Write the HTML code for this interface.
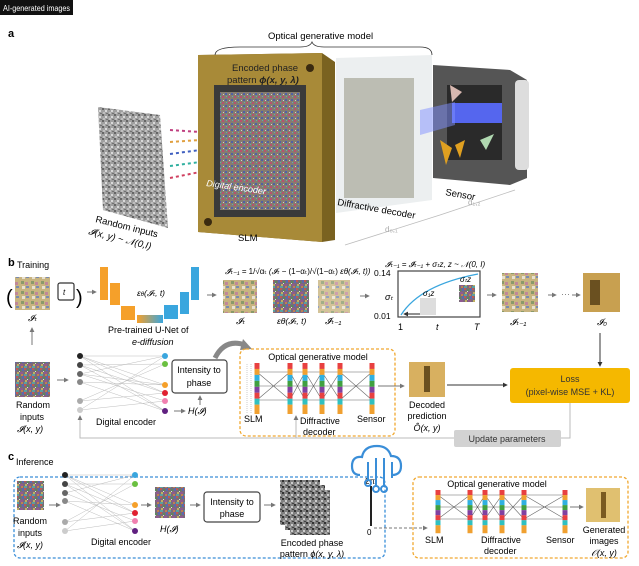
<!DOCTYPE html>
<html><head><meta charset="utf-8"><style>
html,body{margin:0;padding:0;background:#fff;}
svg{display:block;font-family:"Liberation Sans",sans-serif;}
</style></head><body>
<svg width="639" height="566" viewBox="0 0 639 566" xmlns="http://www.w3.org/2000/svg">
<defs>
<pattern id="cn" width="8" height="8" patternUnits="userSpaceOnUse">
<rect width="8" height="8" fill="#7a6a7a"/>
<rect x="0" y="0" width="2" height="2" fill="#c05a50"/><rect x="3" y="1" width="2" height="2" fill="#5a8a5a"/>
<rect x="6" y="0" width="2" height="3" fill="#5a6ab0"/><rect x="1" y="4" width="2" height="2" fill="#c0b060"/>
<rect x="4" y="4" width="3" height="2" fill="#905a90"/><rect x="0" y="6" width="3" height="2" fill="#5aa0a0"/>
<rect x="5" y="6" width="2" height="2" fill="#c08050"/><rect x="3" y="3" width="1" height="1" fill="#ddd"/>
</pattern>
<pattern id="bf" width="10" height="10" patternUnits="userSpaceOnUse">
<rect width="10" height="10" fill="#c8b480"/><rect x="1" y="1" width="3" height="3" fill="#8a9a6a"/>
<rect x="5" y="2" width="3" height="3" fill="#c08898"/><rect x="2" y="6" width="3" height="3" fill="#e8e0d0"/>
<rect x="6" y="6" width="3" height="2" fill="#7a8ab0"/>
</pattern>
<pattern id="gn" width="6" height="6" patternUnits="userSpaceOnUse">
<rect width="6" height="6" fill="#808080"/><rect x="0" y="0" width="2" height="2" fill="#333"/>
<rect x="3" y="2" width="2" height="2" fill="#ccc"/><rect x="1" y="4" width="2" height="2" fill="#aaa"/><rect x="4" y="5" width="2" height="1" fill="#444"/>
</pattern>
<pattern id="sn" width="6" height="6" patternUnits="userSpaceOnUse">
<rect width="6" height="6" fill="#857c70"/><rect x="0" y="0" width="2" height="2" fill="#b85070"/>
<rect x="3" y="3" width="2" height="2" fill="#5060a8"/><rect x="4" y="0" width="1" height="1" fill="#60b0b0"/><rect x="1" y="4" width="1" height="1" fill="#ccc"/>
</pattern>
<linearGradient id="ug" x1="0" x2="1"><stop offset="0" stop-color="#f5a02a"/><stop offset="1" stop-color="#3aa6de"/></linearGradient>
<marker id="ar" viewBox="0 0 6 6" refX="5" refY="3" markerWidth="5" markerHeight="5" orient="auto"><path d="M0,0L6,3L0,6z" fill="#777"/></marker>
<marker id="ak" viewBox="0 0 6 6" refX="5" refY="3" markerWidth="5" markerHeight="5" orient="auto"><path d="M0,0L6,3L0,6z" fill="#333"/></marker>
<g id="col"><rect x="-2.5" y="0" width="5" height="60" fill="#e0e0e0"/>
<rect x="-2.5" y="0" width="5" height="7" fill="#e84040"/><rect x="-2.5" y="7" width="5" height="7" fill="#f0a030"/><rect x="-2.5" y="14" width="5" height="7" fill="#30b0e0"/><rect x="-2.5" y="21" width="5" height="7" fill="#40a040"/><rect x="-2.5" y="28" width="5" height="7" fill="#8040a0"/><rect x="-2.5" y="35" width="5" height="7" fill="#e84040"/><rect x="-2.5" y="42" width="5" height="7" fill="#30c0c0"/><rect x="-2.5" y="49" width="5" height="11" fill="#f0a030"/></g>
</defs>

<rect x="0" y="0" width="73" height="15" fill="#111"/>
<text x="3" y="11" font-size="8.6" fill="#fff" textLength="67" lengthAdjust="spacingAndGlyphs">AI-generated images</text>
<text x="8" y="37" font-size="11" font-weight="bold">a</text>

<polygon points="98,107 160,115 168,228 103,210" fill="url(#gn)" opacity="0.75"/>
<g stroke-width="2">
<line x1="170" y1="130" x2="200" y2="132" stroke="#c04080" stroke-dasharray="3 3"/>
<line x1="170" y1="142" x2="200" y2="140" stroke="#e0a040" stroke-dasharray="3 3"/>
<line x1="170" y1="154" x2="200" y2="150" stroke="#4060c0" stroke-dasharray="3 3"/>
<line x1="170" y1="166" x2="200" y2="162" stroke="#30b0a0" stroke-dasharray="3 3"/>
<line x1="170" y1="178" x2="200" y2="172" stroke="#d04060" stroke-dasharray="3 3"/>
</g>
<text x="95" y="222" font-size="9.5" transform="rotate(14 95 222)">Random inputs</text>
<text x="88" y="234" font-size="9.5" font-style="italic" transform="rotate(14 88 234)">𝓘(x, y) ~ 𝒩(0,I)</text>
<polygon points="198,55 322,53 335,62 335,240 322,242 198,232" fill="#7a6220"/>
<polygon points="198,55 322,53 322,242 198,232" fill="#a88a38"/>
<rect x="214" y="85" width="92" height="132" fill="#3a3a3a"/>
<rect x="220" y="92" width="80" height="118" fill="url(#sn)"/>
<circle cx="310" cy="68" r="4" fill="#3a2a10"/><circle cx="208" cy="222" r="4" fill="#3a2a10"/>
<text x="232" y="71" font-size="9.5" fill="#222">Encoded phase</text>
<text x="227" y="83" font-size="9.5" fill="#222">pattern <tspan font-style="italic" font-weight="bold">ϕ(x, y, λ)</tspan></text>
<text x="206" y="186" font-size="9" font-style="italic" fill="#fff" transform="rotate(8 206 186)">Digital encoder</text>
<text x="238" y="241" font-size="9.5">SLM</text>
<polygon points="336,58 432,55 432,200 336,213" fill="#eceff0"/>
<rect x="344" y="78" width="70" height="120" fill="#b0b0a4" opacity="0.8"/>
<text x="337" y="205" font-size="9.5" transform="rotate(10 337 205)">Diffractive decoder</text>
<polygon points="433,65 510,70 527,80 527,178 510,185 433,178" fill="#555"/>
<rect x="447" y="85" width="55" height="75" fill="#2a2a2a"/>
<rect x="452" y="103" width="50" height="20" fill="#5566ee"/>
<path d="M420,110 L455,102 L455,125 L420,135z" fill="#8090ff" opacity="0.5"/>
<rect x="515" y="80" width="14" height="90" rx="4" fill="#ddd"/>
<polygon points="440,140 452,148 446,165" fill="#e0a020"/><polygon points="455,145 465,140 460,158" fill="#e0a020"/>
<polygon points="450,85 462,92 452,102" fill="#d8b8b0"/><polygon points="480,140 494,134 486,150" fill="#b0d8b0"/>
<text x="445" y="195" font-size="9.5" transform="rotate(10 445 195)">Sensor</text>
<text x="268" y="39" font-size="9.5">Optical generative model</text>
<path d="M215,55 Q215,47 240,47 L300,47 Q310,47 312,42 Q314,47 324,47 L420,47 Q432,47 432,55" fill="none" stroke="#333" stroke-width="0.8"/>
<g stroke="#bbb" stroke-width="0.8"><line x1="345" y1="245" x2="440" y2="215"/><line x1="440" y1="215" x2="515" y2="190"/></g>
<text x="385" y="232" font-size="8" fill="#aaa">d₀,₁</text><text x="468" y="205" font-size="8" fill="#aaa">d₁,₂</text>

<text x="8" y="266" font-size="11" font-weight="bold">b</text>
<text x="17" y="268" font-size="9">Training</text>
<text x="6" y="304" font-size="20">(</text>
<rect x="15" y="277" width="35" height="33" fill="url(#bf)"/>
<rect x="58" y="283" width="16" height="17" rx="2" fill="#fff" stroke="#333" stroke-width="1.2"/>
<text x="63" y="295" font-size="8" font-style="italic">t</text>
<text x="76" y="304" font-size="20">)</text>
<line x1="87" y1="292" x2="96" y2="292" stroke="#777" marker-end="url(#ar)"/>
<text x="28" y="321" font-size="9" font-style="italic">𝓘ₜ</text>
<line x1="32" y1="345" x2="32" y2="328" stroke="#777" marker-end="url(#ar)"/>
<rect x="100" y="267" width="8" height="33" fill="#f5a02a"/>
<rect x="110" y="283" width="10" height="22" fill="#f5a02a"/>
<rect x="121" y="306" width="14" height="14" fill="#f5a02a"/>
<rect x="137" y="315" width="26" height="8" fill="url(#ug)"/>
<rect x="164" y="305" width="14" height="14" fill="#3aa6de"/>
<rect x="180" y="292" width="9" height="22" fill="#3aa6de"/>
<rect x="191" y="267" width="8" height="33" fill="#3aa6de"/>
<text x="137" y="296" font-size="8.5" font-style="italic">ε<tspan font-size="6">θ</tspan>(𝓘ₜ, t)</text>
<text x="108" y="333" font-size="9">Pre-trained U-Net of</text>
<text x="132" y="345" font-size="9" font-style="italic">e-diffusion</text>
<line x1="207" y1="295" x2="216" y2="295" stroke="#777" marker-end="url(#ar)"/>
<text x="225" y="274" font-size="8" font-style="italic">𝓘̂ₜ₋₁ = <tspan font-style="normal">1/√αₜ</tspan> (𝓘ₜ − <tspan font-style="normal">(1−αₜ)/√(1−αₜ)</tspan> εθ(𝓘ₜ, t))</text>
<rect x="223" y="280" width="34" height="33" fill="url(#bf)"/>
<rect x="273" y="280" width="36" height="33" fill="url(#cn)"/>
<rect x="318" y="280" width="32" height="33" fill="url(#bf)" opacity="0.8"/>
<text x="236" y="324" font-size="9" font-style="italic">𝓘ₜ</text>
<text x="277" y="324" font-size="8.5" font-style="italic">εθ(𝓘ₜ, t)</text>
<text x="325" y="324" font-size="9" font-style="italic">𝓘̂ₜ₋₁</text>
<line x1="360" y1="296" x2="369" y2="296" stroke="#777" marker-end="url(#ar)"/>
<text x="385" y="300" font-size="9" font-style="italic">σₜ</text>
<text x="385" y="267" font-size="8" font-style="italic">𝓘ₜ₋₁ = 𝓘̂ₜ₋₁ + σₜz, z ~ 𝒩(0, I)</text>
<rect x="398" y="271" width="82" height="46" fill="#fff" stroke="#444" stroke-width="1.2"/>
<text x="374" y="276" font-size="8.5">0.14</text><text x="374" y="319" font-size="8.5">0.01</text>
<path d="M401,315 Q420,285 478,274" fill="none" stroke="#3aa6de" stroke-width="1.3"/>
<rect x="420" y="298" width="16" height="17" fill="#ddd"/>
<rect x="459" y="285" width="16" height="17" fill="url(#cn)"/>
<line x1="420" y1="314" x2="404" y2="314" stroke="#222" marker-end="url(#ak)"/>
<text x="423" y="296" font-size="8" font-style="italic">σ₁z</text><text x="460" y="282" font-size="8" font-style="italic">σₜz</text>
<text x="398" y="330" font-size="9">1</text><text x="436" y="330" font-size="9" font-style="italic">t</text><text x="474" y="330" font-size="9" font-style="italic">T</text>
<line x1="487" y1="295" x2="496" y2="295" stroke="#777" marker-end="url(#ar)"/>
<rect x="502" y="273" width="36" height="39" fill="url(#bf)"/>
<text x="510" y="325" font-size="9" font-style="italic">𝓘ₜ₋₁</text>
<line x1="548" y1="295" x2="556" y2="295" stroke="#777" marker-end="url(#ar)"/>
<text x="561" y="297" font-size="9" fill="#777">···</text>
<line x1="572" y1="295" x2="580" y2="295" stroke="#777" marker-end="url(#ar)"/>
<rect x="583" y="273" width="37" height="39" fill="#c8a050"/><rect x="590" y="280" width="10" height="25" fill="#6a5020"/>
<text x="597" y="325" font-size="9" font-style="italic">𝓘₀</text>
<line x1="600" y1="333" x2="600" y2="366" stroke="#333" marker-end="url(#ak)"/>

<rect x="15" y="362" width="35" height="35" fill="url(#cn)"/>
<text x="16" y="408" font-size="9">Random</text><text x="20" y="420" font-size="9">inputs</text><text x="17" y="432" font-size="9" font-style="italic">𝓘(x, y)</text>
<line x1="57" y1="380" x2="68" y2="380" stroke="#777" marker-end="url(#ar)"/>
<g stroke-width="0.5" opacity="0.55">
<path d="M80,356L165,356M80,356L165,385M80,356L165,411M80,365L165,364M80,365L165,393M80,374L165,401M80,374L165,356M80,382L165,411M80,382L165,385M80,401L165,364M80,401L165,393M80,410L165,401M80,410L165,356M80,365L165,411M80,356L165,393M80,374L165,385" stroke="#888"/>
</g>
<g><circle cx="80" cy="356" r="3" fill="#222"/><circle cx="80" cy="365" r="3" fill="#444"/><circle cx="80" cy="374" r="3" fill="#666"/><circle cx="80" cy="382" r="3" fill="#888"/><circle cx="80" cy="401" r="3" fill="#aaa"/><circle cx="80" cy="410" r="3" fill="#ccc"/>
<circle cx="165" cy="356" r="3" fill="#3aa6de"/><circle cx="165" cy="364" r="3" fill="#6ac040"/><circle cx="165" cy="385" r="3" fill="#f5a02a"/><circle cx="165" cy="393" r="3" fill="#e02030"/><circle cx="165" cy="401" r="3" fill="#f080b0"/><circle cx="165" cy="411" r="3" fill="#602080"/></g>
<text x="96" y="425" font-size="9">Digital encoder</text>
<line x1="174" y1="411" x2="185" y2="411" stroke="#777" marker-end="url(#ar)"/>
<text x="188" y="414" font-size="9" font-style="italic">H(𝓘)</text>
<rect x="172" y="360" width="55" height="33" rx="3" fill="#fff" stroke="#444" stroke-width="1.2"/>
<text x="199" y="373" font-size="9" text-anchor="middle">Intensity to</text>
<text x="199" y="386" font-size="9" text-anchor="middle">phase</text>
<line x1="200" y1="405" x2="200" y2="396" stroke="#777" marker-end="url(#ar)"/>
<path d="M215,358 Q225,338 245,345" fill="none" stroke="#888" stroke-width="5"/><path d="M243,339 L252,349 L240,350z" fill="#888"/>
<rect x="240" y="349" width="155" height="87" rx="6" fill="none" stroke="#f0a830" stroke-width="1.3" stroke-dasharray="3 2"/>
<text x="318" y="360" font-size="9" text-anchor="middle">Optical generative model</text>
<g stroke="#666" stroke-width="0.6"><path d="M257,372L372,372M257,386L372,386M257,400L372,400M257,372L290,400M257,400L290,372M290,372L305,400M290,400L305,372M305,372L322,400M305,400L322,372M322,372L340,400M322,400L340,372M340,372L372,400M340,400L372,372"/></g>
<g stroke="#999" stroke-width="0.5" stroke-dasharray="1 1"><line x1="247" y1="364" x2="247" y2="414"/><line x1="251" y1="364" x2="251" y2="414"/></g>
<use href="#col" transform="translate(257,363) scale(1,0.85)"/><use href="#col" transform="translate(290,363) scale(1,0.85)"/><use href="#col" transform="translate(305,363) scale(1,0.85)"/><use href="#col" transform="translate(322,363) scale(1,0.85)"/><use href="#col" transform="translate(340,363) scale(1,0.85)"/><use href="#col" transform="translate(372,363) scale(1,0.85)"/>
<text x="244" y="422" font-size="9">SLM</text><text x="300" y="424" font-size="9">Diffractive</text><text x="303" y="435" font-size="9">decoder</text><text x="357" y="422" font-size="9">Sensor</text>
<line x1="378" y1="386" x2="404" y2="386" stroke="#777" marker-end="url(#ar)"/>
<rect x="409" y="362" width="36" height="35" fill="#d8b060"/><rect x="424" y="366" width="6" height="26" fill="#6a5020"/>
<text x="427" y="408" font-size="9" text-anchor="middle">Decoded</text><text x="427" y="419" font-size="9" text-anchor="middle">prediction</text><text x="427" y="431" font-size="9" text-anchor="middle" font-style="italic">Ô(x, y)</text>
<line x1="447" y1="385" x2="507" y2="385" stroke="#333" marker-end="url(#ak)"/>
<rect x="510" y="368" width="120" height="35" rx="3" fill="#f5b800"/>
<text x="570" y="382" font-size="9" text-anchor="middle" fill="#333">Loss</text>
<text x="570" y="395" font-size="9" text-anchor="middle" fill="#333">(pixel-wise MSE + KL)</text>
<polyline points="570,403 570,438 80,438 80,416" fill="none" stroke="#bbb" stroke-width="1" marker-end="url(#ar)"/>
<line x1="296" y1="438" x2="296" y2="416" stroke="#bbb" marker-end="url(#ar)"/>
<rect x="454" y="430" width="107" height="17" rx="2" fill="#d2d2d2"/>
<text x="507" y="442" font-size="9" text-anchor="middle" fill="#333">Update parameters</text>

<text x="8" y="460" font-size="11" font-weight="bold">c</text>
<text x="16" y="465" font-size="9">Inference</text>
<rect x="14" y="477" width="371" height="81" rx="6" fill="none" stroke="#3a8ed8" stroke-width="1.3" stroke-dasharray="3 2"/>
<rect x="17" y="481" width="27" height="29" fill="url(#cn)"/>
<text x="30" y="524" font-size="9" text-anchor="middle">Random</text><text x="30" y="536" font-size="9" text-anchor="middle">inputs</text><text x="30" y="548" font-size="9" text-anchor="middle" font-style="italic">𝓘(x, y)</text>
<line x1="49" y1="505" x2="60" y2="505" stroke="#777" marker-end="url(#ar)"/>
<g stroke-width="0.5" opacity="0.55"><path d="M65,475L135,475M65,475L135,505M65,475L135,531M65,484L135,484M65,484L135,513M65,493L135,521M65,493L135,475M65,501L135,531M65,501L135,505M65,522L135,484M65,522L135,513M65,531L135,521M65,531L135,475M65,484L135,531M65,475L135,513" stroke="#888"/></g>
<g><circle cx="65" cy="475" r="3" fill="#222"/><circle cx="65" cy="484" r="3" fill="#444"/><circle cx="65" cy="493" r="3" fill="#666"/><circle cx="65" cy="501" r="3" fill="#888"/><circle cx="65" cy="522" r="3" fill="#aaa"/><circle cx="65" cy="531" r="3" fill="#ccc"/>
<circle cx="135" cy="475" r="3" fill="#3aa6de"/><circle cx="135" cy="484" r="3" fill="#6ac040"/><circle cx="135" cy="505" r="3" fill="#f5a02a"/><circle cx="135" cy="513" r="3" fill="#e02030"/><circle cx="135" cy="521" r="3" fill="#f080b0"/><circle cx="135" cy="531" r="3" fill="#602080"/></g>
<text x="91" y="545" font-size="9">Digital encoder</text>
<line x1="141" y1="505" x2="151" y2="505" stroke="#777" marker-end="url(#ar)"/>
<rect x="155" y="487" width="30" height="31" fill="url(#cn)"/>
<text x="160" y="532" font-size="9" font-style="italic">H(𝓘)</text>
<line x1="190" y1="505" x2="200" y2="505" stroke="#777" marker-end="url(#ar)"/>
<rect x="204" y="492" width="56" height="30" rx="3" fill="#fff" stroke="#444" stroke-width="1.2"/>
<text x="232" y="505" font-size="9" text-anchor="middle">Intensity to</text><text x="232" y="517" font-size="9" text-anchor="middle">phase</text>
<line x1="264" y1="505" x2="275" y2="505" stroke="#777" marker-end="url(#ar)"/>
<rect x="290" y="490" width="40" height="45" fill="url(#gn)"/>
<rect x="285" y="485" width="40" height="45" fill="url(#gn)"/>
<rect x="280" y="480" width="40" height="45" fill="url(#gn)"/>
<rect x="370" y="486" width="2" height="40" fill="#222"/>
<text x="365" y="484" font-size="8">2π</text><text x="367" y="535" font-size="8">0</text>
<text x="312" y="546" font-size="9" text-anchor="middle">Encoded phase</text>
<text x="312" y="557" font-size="9" text-anchor="middle">pattern <tspan font-style="italic">ϕ(x, y, λ)</tspan></text>
<path d="M360,475 Q352,475 352,466 Q352,456 362,457 Q364,446 377,446 Q388,446 391,456 Q401,456 401,466 Q401,475 392,475" fill="#fff" stroke="#3a8ed8" stroke-width="2.2"/>
<g stroke="#3a8ed8" stroke-width="2" fill="none"><line x1="368" y1="462" x2="368" y2="480"/><line x1="376" y1="458" x2="376" y2="486"/><line x1="384" y1="458" x2="384" y2="486"/><line x1="392" y1="462" x2="392" y2="478"/>
<circle cx="368" cy="483" r="3"/><circle cx="376" cy="489" r="3"/><circle cx="384" cy="489" r="3"/></g>
<line x1="374" y1="528" x2="427" y2="528" stroke="#777" stroke-dasharray="3 2" marker-end="url(#ar)"/>
<rect x="413" y="477" width="215" height="81" rx="6" fill="none" stroke="#f0a830" stroke-width="1.3" stroke-dasharray="3 2"/>
<text x="497" y="487" font-size="9" text-anchor="middle">Optical generative model</text>
<g stroke="#666" stroke-width="0.6"><path d="M438,495L565,495M438,507L565,507M438,519L565,519M438,495L470,519M438,519L470,495M470,495L485,519M470,519L485,495M485,495L502,519M485,519L502,495M502,495L524,519M502,519L524,495M524,495L565,519M524,519L565,495"/></g>
<use href="#col" transform="translate(438,490) scale(1,0.72)"/><use href="#col" transform="translate(470,490) scale(1,0.72)"/><use href="#col" transform="translate(485,490) scale(1,0.72)"/><use href="#col" transform="translate(502,490) scale(1,0.72)"/><use href="#col" transform="translate(524,490) scale(1,0.72)"/><use href="#col" transform="translate(565,490) scale(1,0.72)"/>
<text x="425" y="543" font-size="9">SLM</text><text x="481" y="543" font-size="9">Diffractive</text><text x="484" y="554" font-size="9">decoder</text><text x="546" y="543" font-size="9">Sensor</text>
<line x1="570" y1="507" x2="583" y2="507" stroke="#777" marker-end="url(#ar)"/>
<rect x="586" y="488" width="34" height="34" fill="#e0c070"/><rect x="601" y="492" width="5" height="26" fill="#7a5a20"/>
<text x="604" y="533" font-size="9" text-anchor="middle">Generated</text><text x="604" y="544" font-size="9" text-anchor="middle">images</text><text x="604" y="556" font-size="9" text-anchor="middle" font-style="italic">𝒪(x, y)</text>
</svg>
</body></html>
